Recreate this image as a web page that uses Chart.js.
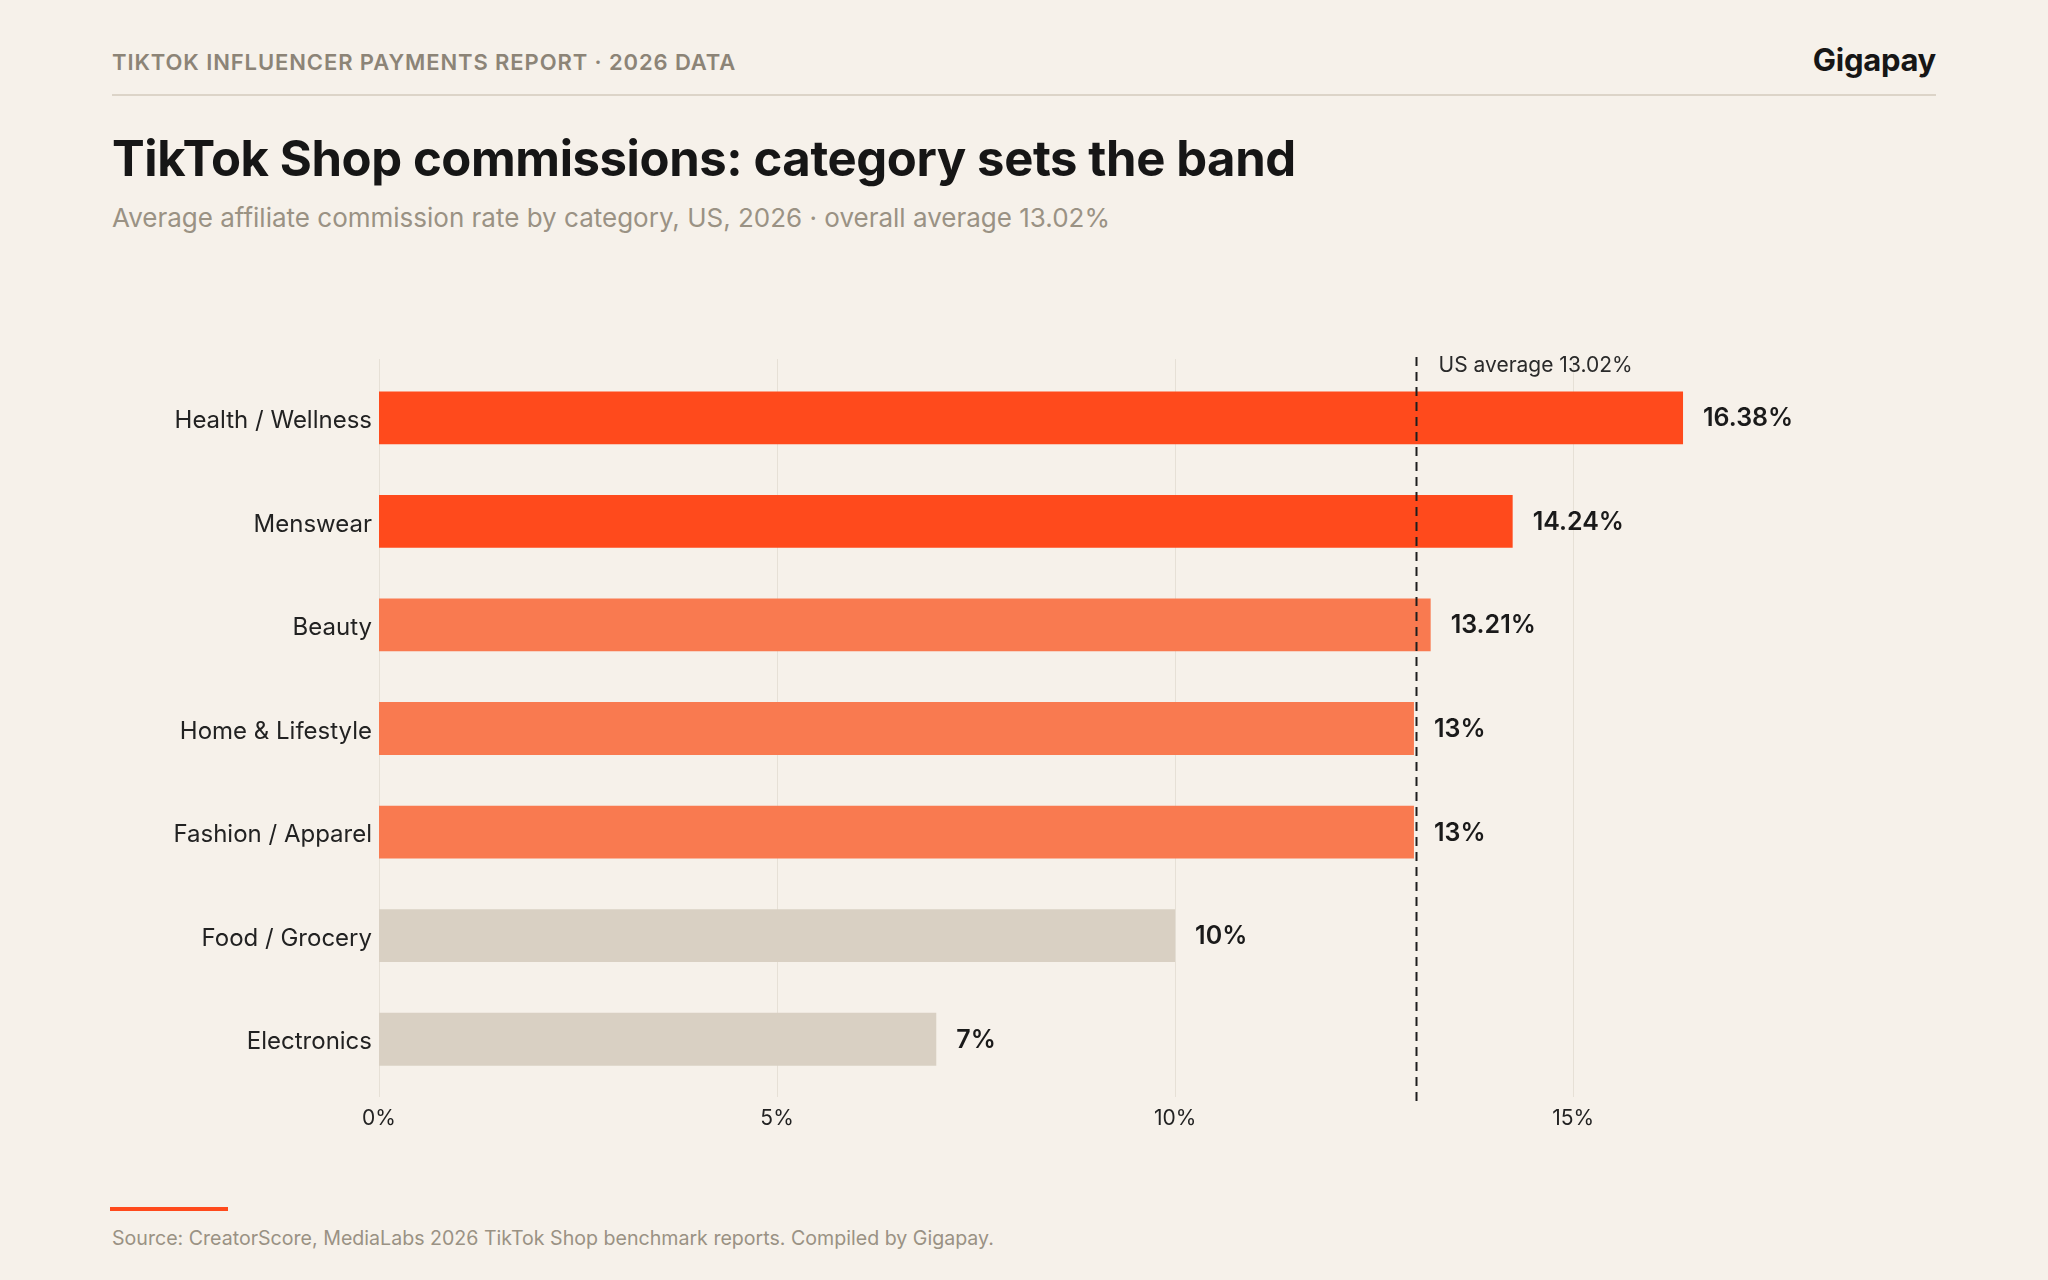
<!DOCTYPE html>
<html>
<head>
<meta charset="utf-8">
<script src="https://cdn.jsdelivr.net/npm/chart.js@4.4.1/dist/chart.umd.min.js"></script>
<style>
  html, body { margin: 0; padding: 0; background: #f6f1ea; }
  body { width: 2048px; height: 1280px; position: relative; font-family: Inter, "Noto Sans", sans-serif; overflow: hidden; }
  .kicker { position: absolute; left: 112px; top: 49px; font-size: 22px; font-weight: 600; letter-spacing: 0.9px; color: #8c8477; }
  .brand { position: absolute; right: 112px; top: 41px; font-size: 31px; font-weight: 700; color: #161616; letter-spacing: -0.3px; }
  .rule { position: absolute; left: 112px; width: 1824px; top: 94px; height: 2px; background: #dcd4c8; }
  .title { position: absolute; left: 112px; top: 129px; font-size: 49px; font-weight: 700; color: #161616; letter-spacing: -0.4px; }
  .subtitle { position: absolute; left: 112px; top: 202px; font-size: 26px; font-weight: 400; color: #9a9284; }
  .chart-wrap { position: absolute; left: 0; top: 300px; width: 2048px; height: 860px; }
  .accent { position: absolute; left: 110px; top: 1207px; width: 118px; height: 4px; background: #ff4a1c; }
  .source { position: absolute; left: 112px; top: 1226px; font-size: 19.6px; color: #9a9284; }
</style>
</head>
<body>
<div class="kicker">TIKTOK INFLUENCER PAYMENTS REPORT · 2026 DATA</div>
<div class="brand">Gigapay</div>
<div class="rule"></div>
<div class="title">TikTok Shop commissions: category sets the band</div>
<div class="subtitle">Average affiliate commission rate by category, US, 2026 · overall average 13.02%</div>
<div class="chart-wrap"><canvas id="chart"></canvas></div>
<div class="accent"></div>
<div class="source">Source: CreatorScore, MediaLabs 2026 TikTok Shop benchmark reports. Compiled by Gigapay.</div>

<script>
  // chart data
  const categories = ['Health / Wellness', 'Menswear', 'Beauty', 'Home & Lifestyle', 'Fashion / Apparel', 'Food / Grocery', 'Electronics'];
  const rates = [16.38, 14.24, 13.21, 13, 13, 10, 7];
  const rateLabels = ['16.38%', '14.24%', '13.21%', '13%', '13%', '10%', '7%'];
  const barColors = ['#ff4a1c', '#ff4a1c', '#f97a50', '#f97a50', '#f97a50', '#d9d0c3', '#d9d0c3'];
  const usAverage = 13.02;
  const avgLabel = 'US average 13.02%';
  const xTicks = [0, 5, 10, 15];

  // grid lines slightly taller than the plot area, plus the dashed average marker
  const gridPlugin = {
    id: 'grid',
    beforeDatasetsDraw(chart) {
      const { ctx, chartArea: a, scales: { x } } = chart;
      ctx.save();
      ctx.strokeStyle = '#e6e0d6';
      ctx.lineWidth = 1;
      xTicks.forEach(v => {
        const px = Math.round(x.getPixelForValue(v)) + 0.5;
        ctx.beginPath();
        ctx.moveTo(px, a.top - 7);
        ctx.lineTo(px, a.bottom + 6);
        ctx.stroke();
      });
      ctx.restore();
    },
    afterDatasetsDraw(chart) {
      const { ctx, chartArea: a, scales: { x } } = chart;
      const meta = chart.getDatasetMeta(0);
      ctx.save();
      // value labels
      ctx.font = '600 25px Inter';
      ctx.fillStyle = '#1a1a1a';
      ctx.textAlign = 'left';
      ctx.textBaseline = 'middle';
      meta.data.forEach((bar, i) => {
        ctx.fillText(rateLabels[i], bar.x + 20, bar.y + 1);
      });
      // average line
      const ax = Math.round(x.getPixelForValue(usAverage)) + 0.5;
      ctx.strokeStyle = '#1e1e1e';
      ctx.lineWidth = 2;
      ctx.setLineDash([9, 6]);
      ctx.beginPath();
      ctx.moveTo(ax, a.top - 9);
      ctx.lineTo(ax, a.bottom + 10);
      ctx.stroke();
      ctx.setLineDash([]);
      ctx.font = '400 21px Inter';
      ctx.fillStyle = '#2a2a2a';
      ctx.fillText(avgLabel, ax + 22, a.top);
      ctx.restore();
    }
  };

  new Chart(document.getElementById('chart'), {
    type: 'bar',
    data: {
      labels: categories,
      datasets: [{ data: rates, backgroundColor: barColors, borderWidth: 0, barPercentage: 0.51, categoryPercentage: 1 }]
    },
    options: {
      indexAxis: 'y',
      responsive: true,
      maintainAspectRatio: false,
      animation: false,
      layout: { padding: { top: 66, right: 236, bottom: 0, left: 0 } },
      plugins: { legend: { display: false }, tooltip: { enabled: false } },
      scales: {
        x: {
          min: 0,
          max: 18,
          afterBuildTicks: s => { s.ticks = xTicks.map(v => ({ value: v })); },
          afterFit: s => { s.height = 69; },
          grid: { display: false, drawTicks: false },
          border: { display: false },
          ticks: { padding: 15, color: '#222', font: { family: 'Inter', size: 21 }, callback: v => v + '%' }
        },
        y: {
          afterFit: s => { s.width = 379; },
          grid: { display: false, drawTicks: false },
          border: { display: false },
          ticks: { padding: 7, labelOffset: 3, color: '#222', font: { family: 'Inter', size: 24 } }
        }
      }
    },
    plugins: [gridPlugin]
  });
</script>
</body>
</html>
